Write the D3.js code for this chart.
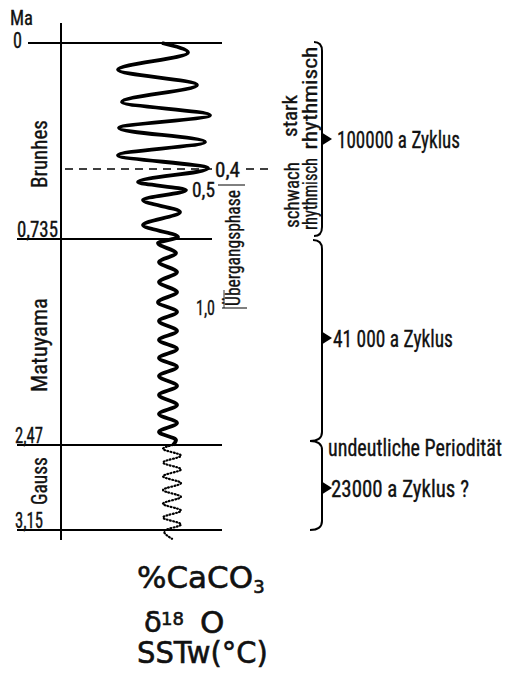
<!DOCTYPE html>
<html lang="de">
<head>
<meta charset="utf-8">
<title>Periodizität</title>
<script src="https://cdn.jsdelivr.net/npm/d3@7"></script>
<style>
  body { margin: 0; background: #fff; }
  text { fill: #111; stroke: #111; stroke-width: 0.35px; font-family: "Roboto Condensed", "DejaVu Sans Condensed", "Liberation Sans", sans-serif; }
  text.big { font-family: "DejaVu Sans", "Liberation Sans", sans-serif; stroke-width: 0.6px; }
</style>
</head>
<body>
<div id="chart"></div>
<script>
var width = 514,
    height = 674;

// Alter in Ma
var boundaryAges = [0, 0.735, 2.47, 3.15];
var boundaryLabels = ["0", "0,735", "2,47", "3,15"];
var epochNames = ["Brunhes", "Matuyama", "Gauss"];
var cycleLabels = ["100000 a Zyklus", "41 000 a Zyklus", "23000 a Zyklus ?"];
var innerAges = [0.4, 0.5, 1.0];
var innerLabels = ["0,4", "0,5", "1,0"];

// Kurve (Extremwerte), durchgezogen: Brunhes + Matuyama
var solidAge = [0, 0.03, 0.085, 0.133, 0.187, 0.229, 0.27, 0.314, 0.356, 0.398,
  0.472, 0.514, 0.559, 0.613, 0.672, 0.726,
  0.751, 0.790, 0.825, 0.864, 0.903, 0.942, 0.981, 1.053, 1.149, 1.256, 1.351,
  1.447, 1.543, 1.639, 1.735, 1.841, 1.937, 2.044, 2.140, 2.235, 2.331, 2.416, 2.47];
var solidValue = [62, 88, 18, 97, 22, 110, 19, 105, 18, 108,
  38, 86, 43, 80, 43, 78,
  58, 76, 59, 77, 59, 77, 58, 77, 59, 77, 59,
  77, 59, 77, 59, 77, 59, 77, 59, 77, 59, 76, 73];

// punktiert: Gauss
var dottedAge = [2.47, 2.50, 2.555, 2.61, 2.665, 2.72, 2.775, 2.83, 2.885, 2.94, 2.995, 3.05, 3.105, 3.16, 3.22];
var dottedValue = [73, 63, 81, 63, 81, 63, 81, 63, 81, 63, 81, 63, 81, 64, 72];

var svg = d3.select("#chart")
    .append("svg")
    .attr("width", width)
    .attr("height", height);

var y = d3.scaleLinear()
    .domain([0, 0.4, 0.5, 0.735, 1.0, 2.47, 3.15])
    .range([43, 169, 187, 239, 307, 445, 530]);

var x = d3.scaleLinear()
    .domain([0, 120])
    .range([100, 220]);

var axisX = 61;

// schmale Schrift: horizontal auf Zielbreite bringen
function label(str, px, py, size, len, cls) {
  var t = svg.append("text")
      .attr("font-size", size)
      .text(str);
  if (cls) t.attr("class", cls);
  var s = len ? len / t.node().getComputedTextLength() : 1;
  t.attr("transform", "translate(" + px + "," + py + ") scale(" + s + ",1)");
  return t;
}

function vlabel(str, px, py, size, len) {
  var t = svg.append("text")
      .attr("text-anchor", "middle")
      .attr("font-size", size)
      .text(str);
  var s = len / t.node().getComputedTextLength();
  t.attr("transform", "translate(" + px + "," + py + ") rotate(-90) scale(" + s + ",1)");
  return t;
}

// Achse
svg.append("line")
    .attr("x1", axisX).attr("x2", axisX)
    .attr("y1", 23).attr("y2", 540)
    .attr("stroke", "#000").attr("stroke-width", 2);

label("Ma", 10, 25, 21, 23);

// Grenzlinien
var lineStart = [28, 17, 17, 17],
    lineEnd = [222, 212, 222, 222],
    labelX = [13, 17, 15, 15],
    labelLen = [9, 41, 28, 28];

boundaryAges.forEach(function(a, i) {
  svg.append("line")
      .attr("x1", lineStart[i]).attr("x2", lineEnd[i])
      .attr("y1", y(a)).attr("y2", y(a))
      .attr("stroke", "#000").attr("stroke-width", 1.8);
  label(boundaryLabels[i], labelX[i], i === 0 ? y(a) + 5 : y(a) - 2, 22, labelLen[i]);
});

// Epochen
var epochY = [154, 345, 481], epochLen = [68, 94, 48];
epochNames.forEach(function(n, i) {
  vlabel(n, 47, epochY[i], 22, epochLen[i]);
});

// 0,4 gestrichelt
svg.append("line")
    .attr("x1", 65).attr("x2", 212)
    .attr("y1", y(0.4)).attr("y2", y(0.4))
    .attr("stroke", "#000").attr("stroke-width", 1.6)
    .attr("stroke-dasharray", "8,6");
svg.append("line")
    .attr("x1", 246).attr("x2", 274)
    .attr("y1", y(0.4)).attr("y2", y(0.4))
    .attr("stroke", "#000").attr("stroke-width", 1.6)
    .attr("stroke-dasharray", "8,6");

// Kurve
var line = d3.line()
    .x(function(d) { return x(d[1]); })
    .y(function(d) { return y(d[0]); })
    .curve(d3.curveMonotoneY);

svg.append("path")
    .datum(d3.zip(solidAge, solidValue))
    .attr("d", line)
    .attr("fill", "none")
    .attr("stroke", "#000")
    .attr("stroke-width", 3.8)
    .attr("stroke-linejoin", "round");

svg.append("path")
    .datum(d3.zip(dottedAge, dottedValue))
    .attr("d", line)
    .attr("fill", "none")
    .attr("stroke", "#000")
    .attr("stroke-width", 2.2)
    .attr("stroke-linecap", "round")
    .attr("stroke-dasharray", "0.8,2.4");

// innere Marken
label(innerLabels[0], 215, y(innerAges[0]) + 8, 21, 25);
label(innerLabels[1], 192, y(innerAges[1]) + 10, 21, 23);
label(innerLabels[2], 196, y(innerAges[2]) + 8, 21, 19);

// Übergangsphase
svg.append("line")
    .attr("x1", 218).attr("x2", 245)
    .attr("y1", 185).attr("y2", 185)
    .attr("stroke", "#000").attr("stroke-width", 1);
svg.append("line")
    .attr("x1", 222).attr("x2", 247)
    .attr("y1", 308).attr("y2", 308)
    .attr("stroke", "#000").attr("stroke-width", 1);
svg.append("line")
    .attr("x1", 224).attr("x2", 224)
    .attr("y1", 290).attr("y2", 308)
    .attr("stroke", "#000").attr("stroke-width", 0.8);
vlabel("Übergangsphase", 240, 248, 21, 116);

// rhythmisch
vlabel("stark", 297, 116, 21, 42);
vlabel("schwach", 299, 195, 21, 66);
vlabel("rhythmisch", 317, 98, 21, 103);
vlabel("rhythmisch", 317, 194, 21, 72);

// Klammern
var bx = 322;
function brace(y0, y1, h0, h1) {
  var p = d3.path();
  p.moveTo(h0, y0);
  p.quadraticCurveTo(bx, y0, bx, y0 + 9);
  p.lineTo(bx, y1 - 9);
  p.quadraticCurveTo(bx, y1, h1, y1);
  return p.toString();
}

var braceTop = [y(0) - 1, y(0.735) + 1, y(2.47) - 4],
    braceBottom = [y(0.735) - 3, y(2.47) - 4, y(3.15)],
    braceHookTop = [314, 313, 310],
    braceHookBottom = [314, 310, 310],
    braceMid = [139, 338, 488],
    cycleLen = [123, 120, 138],
    cycleX = [337, 333, 331];

cycleLabels.forEach(function(c, i) {
  svg.append("path")
      .attr("d", brace(braceTop[i], braceBottom[i], braceHookTop[i], braceHookBottom[i]))
      .attr("fill", "none")
      .attr("stroke", "#000")
      .attr("stroke-width", 2);
  svg.append("path")
      .attr("d", "M" + (bx - 1) + "," + (braceMid[i] - 7) + "L" + (bx + 10) + "," + braceMid[i] + "L" + (bx - 1) + "," + (braceMid[i] + 7) + "Z")
      .attr("fill", "#000");
  label(c, cycleX[i], braceMid[i] + 9, 24, cycleLen[i]);
});

label("undeutliche Periodität", 328, y(2.47) + 11, 24, 174);

// Beschriftung unten
var t1 = svg.append("text").attr("class", "big").attr("x", 137).attr("y", 588).attr("font-size", 31);
t1.append("tspan").text("%CaCO");
t1.append("tspan").attr("font-size", 18).attr("dy", 5).text("3");

var t2 = svg.append("text").attr("class", "big").attr("font-size", 31);
t2.append("tspan").attr("x", 144).attr("y", 632).attr("font-size", 29).text("δ");
t2.append("tspan").attr("x", 161).attr("y", 625).attr("font-size", 18).text("18");
t2.append("tspan").attr("x", 200).attr("y", 633).text("O");

label("SSTw(°C)", 137, 663, 31, 131, "big");
</script>
</body>
</html>
